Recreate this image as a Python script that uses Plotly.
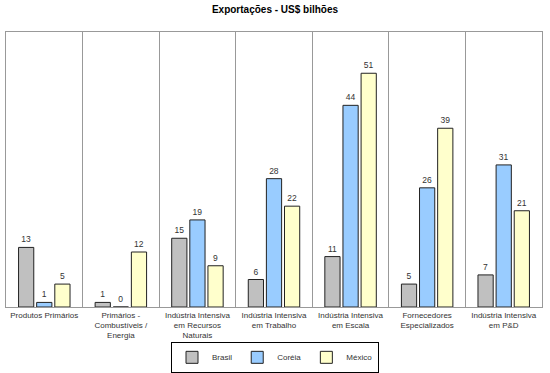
import plotly.graph_objects as go

categories = ["Produtos Primários", "Primários -<br>Combustíveis /<br>Energia",
              "Indústria Intensiva<br>em Recursos<br>Naturais", "Indústria Intensiva<br>em Trabalho",
              "Indústria Intensiva<br>em Escala", "Fornecedores<br>Especializados",
              "Indústria Intensiva<br>em P&D"]
brasil = [13, 1, 15, 6, 11, 5, 7]
coreia = [1, 0, 19, 28, 44, 26, 31]
mexico = [5, 12, 9, 22, 51, 39, 21]

series = [("Brasil", brasil, "#C0C0C0"), ("Coréia", coreia, "#99CCFF"), ("México", mexico, "#FFFFCC")]

FONT = "Liberation Sans, Arial"

fig = go.Figure()
for name, vals, color in series:
    fig.add_trace(go.Bar(
        x=categories, y=vals, name=name,
        marker=dict(color=color, line=dict(color="#222222", width=1)),
        text=[str(v) for v in vals], textposition="outside", cliponaxis=False,
        textfont=dict(family=FONT, size=8.5, color="#333333"),
    ))

fig.update_layout(
    width=550, height=373,
    margin=dict(l=6, r=8, t=32, b=66, autoexpand=False),
    paper_bgcolor="white", plot_bgcolor="white",
    title=dict(text="<b>Exportações - US$ bilhões</b>", x=0.5, xanchor="center",
               y=0.985, yanchor="top",
               font=dict(family=FONT, size=10, color="#000000")),
    barmode="group", bargap=0.29, bargroupgap=0.16,
    font=dict(family=FONT, size=8, color="#333333"),
    showlegend=True,
    legend=dict(orientation="h", x=0.5, xanchor="center", xref="container",
                y=0.042, yanchor="middle", yref="container",
                bordercolor="#000000", borderwidth=1, font=dict(size=8, color="#333333"),
                itemwidth=30, tracegroupgap=0),
    xaxis=dict(tickson="boundaries", showgrid=True, gridcolor="#999999", gridwidth=1,
               showline=True, linecolor="#999999", mirror=True, ticks="", automargin=False,
               tickfont=dict(size=8, color="#333333"), tickangle=0),
    yaxis=dict(range=[0, 60], showgrid=False, showticklabels=False, zeroline=False,
               showline=True, linecolor="#999999", mirror=True, ticks="", automargin=False),
)

fig.write_html("out.html", config={"displayModeBar": False},
               post_script="document.body.style.margin='0';")
